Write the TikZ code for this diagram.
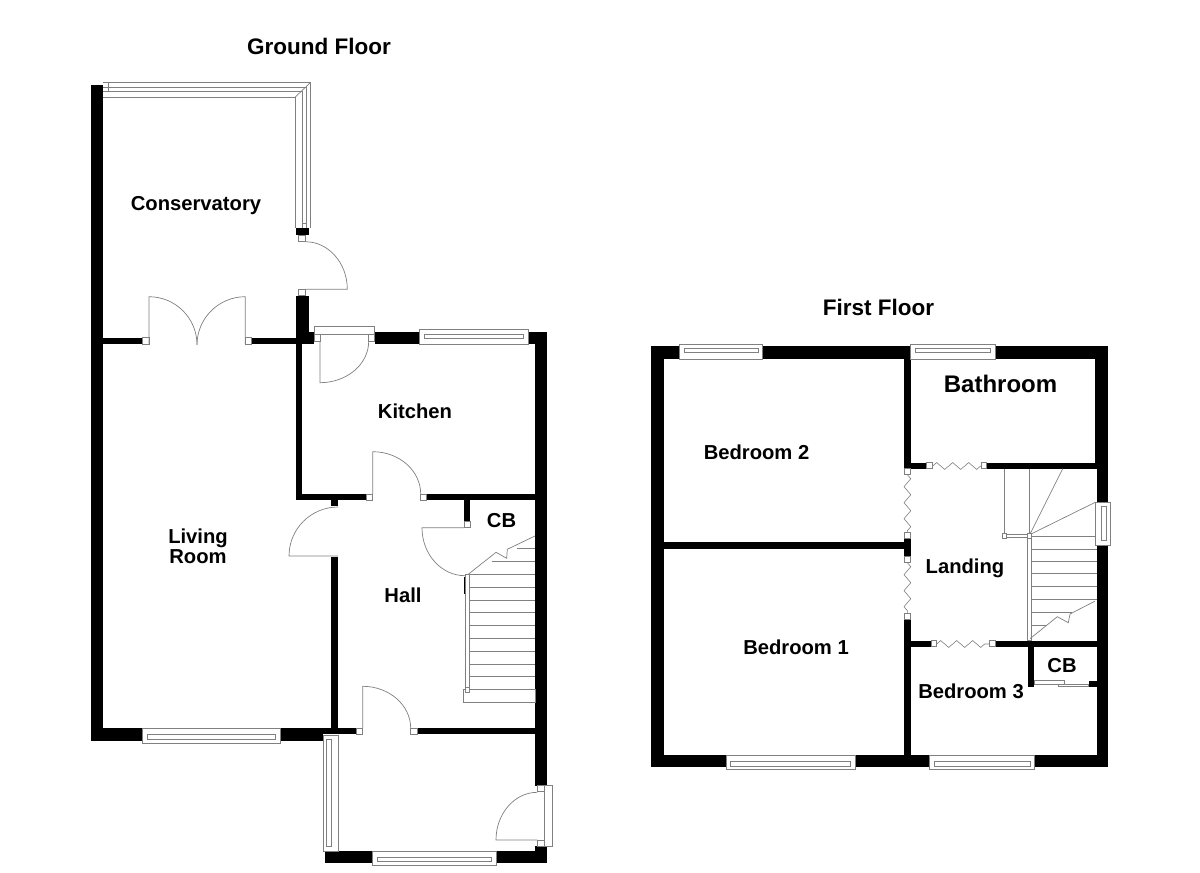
\documentclass[tikz,border=0pt]{standalone}
\usepackage{fontspec}
\setmainfont{Liberation Sans}
\usetikzlibrary{decorations.pathmorphing}
\tikzset{
	wall/.style={fill=black, draw=none},
	fitting/.style={draw=black!50, line width=0.7pt},
	jamb/.style={draw=black!50, line width=0.7pt, fill=white},
	zig/.style={draw=black!50, line width=0.6pt, decorate, decoration={zigzag, segment length=16pt, amplitude=3.4pt}},
	roomname/.style={font=\bfseries\fontsize{20.2}{20}\selectfont, align=center, inner sep=0pt},
	floorname/.style={font=\bfseries\fontsize{22.5}{24}\selectfont, inner sep=0pt}
}
% horizontal and vertical window: x1, x2, y1, y2, inner a, inner b
\def\winH(#1,#2,#3,#4,#5,#6){\draw[jamb] (#1, #3) rectangle (#2, #4);
	\draw[fitting] (#1+4.8, #5) rectangle (#2-4.8, #6);}
\def\winV(#1,#2,#3,#4,#5,#6){\draw[jamb] (#1, #3) rectangle (#2, #4);
	\draw[fitting] (#5, #3+4.5) rectangle (#6, #4-4.5);}
\begin{document}
\begin{tikzpicture}[x=1pt, y=-1pt]
	%%%%% START %%%%%
	\useasboundingbox[fill=white] (0, 0) rectangle (1200, 873);
	
	\node[floorname] (groundtitle) at (319, 46) {Ground Floor};
	\node[floorname] (firsttitle) at (878.5, 307) {First Floor};
	
	% ground floor walls
	\draw[wall] (90.7, 84.7) rectangle (103.3, 741);
	\draw[wall] (103, 337.7) rectangle (142.7, 344);
	\draw[wall] (251.5, 337.7) rectangle (300, 344);
	\draw[wall] (296, 296) rectangle (308.7, 332);
	\draw[wall] (296, 332) rectangle (314, 344);
	\draw[wall] (296, 344) rectangle (302.3, 500);
	\draw[wall] (296, 228.3) rectangle (308.7, 235);
	\draw[wall] (374.7, 332) rectangle (419.3, 344);
	\draw[wall] (528.3, 332) rectangle (547.3, 344);
	\draw[wall] (534.9, 332) rectangle (547.3, 785.7);
	\draw[wall] (296, 494) rectangle (366.7, 500);
	\draw[wall] (426.7, 494) rectangle (535, 500);
	\draw[wall] (331.3, 500) rectangle (338, 506);
	\draw[wall] (331.3, 557.3) rectangle (338, 730);
	\draw[wall] (464, 500) rectangle (470, 521.7);
	\draw[wall] (463.7, 576.7) rectangle (465.7, 594.3);
	\draw[wall] (90.7, 728.2) rectangle (142.3, 741);
	\draw[wall] (280.3, 728.2) rectangle (323.3, 741);
	\draw[wall] (323, 728.2) rectangle (356.7, 734.3);
	\draw[wall] (417.3, 728.2) rectangle (535, 734.3);
	\draw[wall] (535, 846) rectangle (547.3, 863.3);
	\draw[wall] (496, 851) rectangle (547.3, 863.3);
	\draw[wall] (325.3, 851) rectangle (372.3, 863.3);
	
	% conservatory glazing
	\draw[fitting] (103, 97) -- (295.3, 97) -- (295.3, 228.3);
	\draw[fitting] (103, 82.7) -- (310.3, 82.7) -- (310.3, 228.3);
	\draw[fitting] (103, 87.3) -- (306.7, 87.3) -- (306.7, 228.3);
	\draw[fitting] (103, 91.7) -- (302.7, 91.7) -- (302.7, 228.3);
	\draw[fitting] (310.3, 82.7) -- (295.3, 97);
	\draw[fitting] (108.5, 82.7) -- (108.5, 91.7);
	\draw[fitting] (302.7, 223.5) -- (306.7, 223.5);
	
	% ground floor doors
	\draw[jamb] (298.7, 235) rectangle (305.3, 241.7);
	\draw[jamb] (298.7, 289.3) rectangle (305.3, 295.5);
	\draw[fitting] (305.3, 241.7) arc (90:0:42pt and 47.6pt) -- (305.3, 289.3);
	
	\draw[jamb] (142.7, 337.7) rectangle (149, 344);
	\draw[jamb] (245.3, 337.7) rectangle (251.5, 344);
	\draw[fitting] (149, 344) -- (149, 296.7) arc (90:0:48pt);
	\draw[fitting] (245.3, 344) -- (245.3, 296.7) arc (90:180:48.3pt);
	
	\draw[jamb] (314, 326.7) rectangle (374.7, 334.7);
	\draw[jamb] (314, 334.7) rectangle (320, 341.3);
	\draw[jamb] (368.7, 334.7) rectangle (374.7, 341.3);
	\draw[fitting] (320, 341.3) -- (320, 382.7) arc (270:360:48.7pt and 41.4pt);
	
	\draw[jamb] (366.7, 494) rectangle (372.7, 500);
	\draw[jamb] (420.7, 494) rectangle (426.7, 500);
	\draw[fitting] (372.7, 494) -- (372.7, 451.7) arc (90:0:48pt and 42.3pt);
	
	\draw[fitting] (338, 507) arc (90:180:49pt) -- (338, 556);
	
	\draw[jamb] (464, 521.7) rectangle (470, 527.7);
	\draw[fitting] (464, 527.7) -- (422, 527.7) arc (180:270:43pt and 48pt);
	
	\draw[jamb] (356.7, 728.2) rectangle (362.7, 734.3);
	\draw[jamb] (410.7, 728.2) rectangle (417.3, 734.3);
	\draw[fitting] (362.7, 728.2) -- (362.7, 686.3) arc (90:0:48pt and 42pt);
	
	\draw[jamb] (544, 785.7) rectangle (552.3, 846);
	\draw[jamb] (537.3, 785.7) rectangle (544, 791.7);
	\draw[jamb] (537.3, 840) rectangle (544, 846);
	\draw[fitting] (537.3, 840) -- (496, 840) arc (180:90:41.3pt and 47.7pt);
	
	% ground floor windows
	\winH(419.3, 528.3, 329.3, 344, 334, 338)
	\winH(142.3, 280.3, 728.2, 743.3, 734.3, 739.3)
	\winH(372.3, 496, 851, 865, 857, 861.7)
	\winV(323.3, 338.3, 735, 851, 326.7, 331)
	
	% main stairs
	\draw[jamb] (465, 574.3) rectangle (469, 689.3);
	\draw[jamb] (463.3, 689.3) rectangle (534.9, 702.7);
	\draw[jamb] (465.3, 687.7) rectangle (469.3, 692);
	\draw[fitting] (469, 574.3) -- (534.9, 574.3);
	\draw[fitting] (469, 587.3) -- (534.9, 587.3);
	\draw[fitting] (469, 600) -- (534.9, 600);
	\draw[fitting] (469, 612.7) -- (534.9, 612.7);
	\draw[fitting] (469, 625.7) -- (534.9, 625.7);
	\draw[fitting] (469, 638.3) -- (534.9, 638.3);
	\draw[fitting] (469, 651) -- (534.9, 651);
	\draw[fitting] (469, 664) -- (534.9, 664);
	\draw[fitting] (469, 676.7) -- (534.9, 676.7);
	\draw[fitting] (491.7, 561.7) -- (534.9, 561.7);
	\draw[fitting] (516.7, 548.3) -- (534.9, 548.3);
	\draw[fitting] (467.7, 574.7) -- (496, 552.3) -- (506.7, 558.3) -- (507.3, 549.3) -- (534.9, 536);
	
	% first floor walls
	\draw[wall] (651.3, 346.2) rectangle (664, 767.3);
	\draw[wall] (651.3, 346.2) rectangle (679.3, 359);
	\draw[wall] (762.7, 346.2) rectangle (910.7, 359);
	\draw[wall] (995.3, 346.2) rectangle (1108, 359);
	\draw[wall] (1095.3, 346.2) rectangle (1108, 465);
	\draw[wall] (1096.7, 465) rectangle (1108, 502.3);
	\draw[wall] (1096.7, 545.3) rectangle (1108, 767.3);
	\draw[wall] (904, 359) rectangle (910.7, 468.7);
	\draw[wall] (904, 462.7) rectangle (926.7, 468.7);
	\draw[wall] (986.7, 462.7) rectangle (1096.7, 468.7);
	\draw[wall] (664, 542.3) rectangle (904, 549);
	\draw[wall] (904, 538.7) rectangle (910.7, 556.7);
	\draw[wall] (904, 619.3) rectangle (910.7, 767.3);
	\draw[wall] (904, 640.7) rectangle (931.3, 646.7);
	\draw[wall] (995.3, 640.7) rectangle (1096.7, 646.7);
	\draw[wall] (1028, 646.7) rectangle (1034, 686.7);
	\draw[wall] (1088.7, 680.7) rectangle (1096.7, 686.7);
	\draw[wall] (651.3, 755) rectangle (726, 767.3);
	\draw[wall] (855, 755) rectangle (929.3, 767.3);
	\draw[wall] (1034.7, 755) rectangle (1108, 767.3);
	
	% first floor folding doors
	\draw[jamb] (926.7, 462.7) rectangle (932.7, 468.7);
	\draw[jamb] (981.3, 462.7) rectangle (986.7, 468.7);
	\draw[zig] (932.7, 466) -- (981.3, 466);
	\draw[jamb] (904, 468.7) rectangle (910.7, 474.7);
	\draw[jamb] (904, 532.7) rectangle (910.7, 538.7);
	\draw[zig] (907.4, 474.7) -- (907.4, 532.7);
	\draw[jamb] (904, 556.7) rectangle (910.7, 562.7);
	\draw[jamb] (904, 613.3) rectangle (910.7, 619.3);
	\draw[zig] (907.4, 562.7) -- (907.4, 613.3);
	\draw[jamb] (931.3, 640.7) rectangle (936.7, 646.7);
	\draw[jamb] (989.3, 640.7) rectangle (995.3, 646.7);
	\draw[zig] (936.7, 644) -- (989.3, 644);
	\draw[jamb] (1034, 680.7) rectangle (1064.7, 684);
	\draw[jamb] (1058.3, 684) rectangle (1088.7, 686.7);
	
	% first floor windows
	\winH(679.3, 762.7, 344.3, 359, 348, 352.3)
	\winH(910.7, 995.3, 344, 359.3, 348, 352.3)
	\winH(726, 855, 755, 769.3, 761, 766)
	\winH(929.3, 1034.7, 755, 769.3, 761, 766)
	\winV(1095.3, 1110, 502.3, 545.3, 1101.7, 1106.7)
	
	% landing stairs
	\draw[fitting] (1004.7, 468.7) -- (1004.7, 533.7);
	\draw[fitting] (1029.3, 468.7) -- (1029.3, 534.3);
	\draw[fitting] (1030, 534) -- (1062.7, 468.7);
	\draw[fitting] (1031, 534) -- (1095.3, 502.3);
	\draw[jamb] (1006.7, 534.3) rectangle (1029, 537.7);
	\draw[jamb] (1002.3, 533.7) rectangle (1006.7, 538);
	\draw[jamb] (1027.7, 536) rectangle (1031.3, 640.7);
	\draw[jamb] (1027.7, 533.7) rectangle (1031.7, 538);
	\draw[fitting] (1031.3, 536) -- (1095.3, 536);
	\draw[fitting] (1031.3, 549) -- (1096.7, 549);
	\draw[fitting] (1031.3, 561.7) -- (1096.7, 561.7);
	\draw[fitting] (1031.3, 573.7) -- (1096.7, 573.7);
	\draw[fitting] (1031.3, 586.7) -- (1096.7, 586.7);
	\draw[fitting] (1031.3, 599.7) -- (1096.7, 599.7);
	\draw[fitting] (1031.3, 612.7) -- (1072, 612.7);
	\draw[fitting] (1031.3, 625.7) -- (1046, 625.7);
	\draw[fitting] (1030, 638.7) -- (1057.3, 616.7) -- (1068.3, 622.7) -- (1070, 614) -- (1094.7, 601.3);
	
	% room names
	\node[roomname] (conservatory) at (196, 205.5) {Conservatory};
	\node[roomname] (kitchen) at (415, 411) {Kitchen};
	\node[roomname] (living) at (198, 546.5) {Living\\Room};
	\node[roomname] (hall) at (403, 595) {Hall};
	\node[roomname] (cupboardhall) at (501.5, 521) {CB};
	\node[roomname] (bedtwo) at (756.5, 452) {Bedroom 2};
	\node[roomname, font=\bfseries\fontsize{24}{26}\selectfont] (bathroom) at (1000.5, 384) {Bathroom};
	\node[roomname] (landing) at (965, 568) {Landing};
	\node[roomname] (bedone) at (796, 647) {Bedroom 1};
	\node[roomname] (bedthree) at (971, 691.5) {Bedroom 3};
	\node[roomname] (cupboardbed) at (1062, 666) {CB};
	
	%%%%% END %%%%%
\end{tikzpicture}
\end{document}
